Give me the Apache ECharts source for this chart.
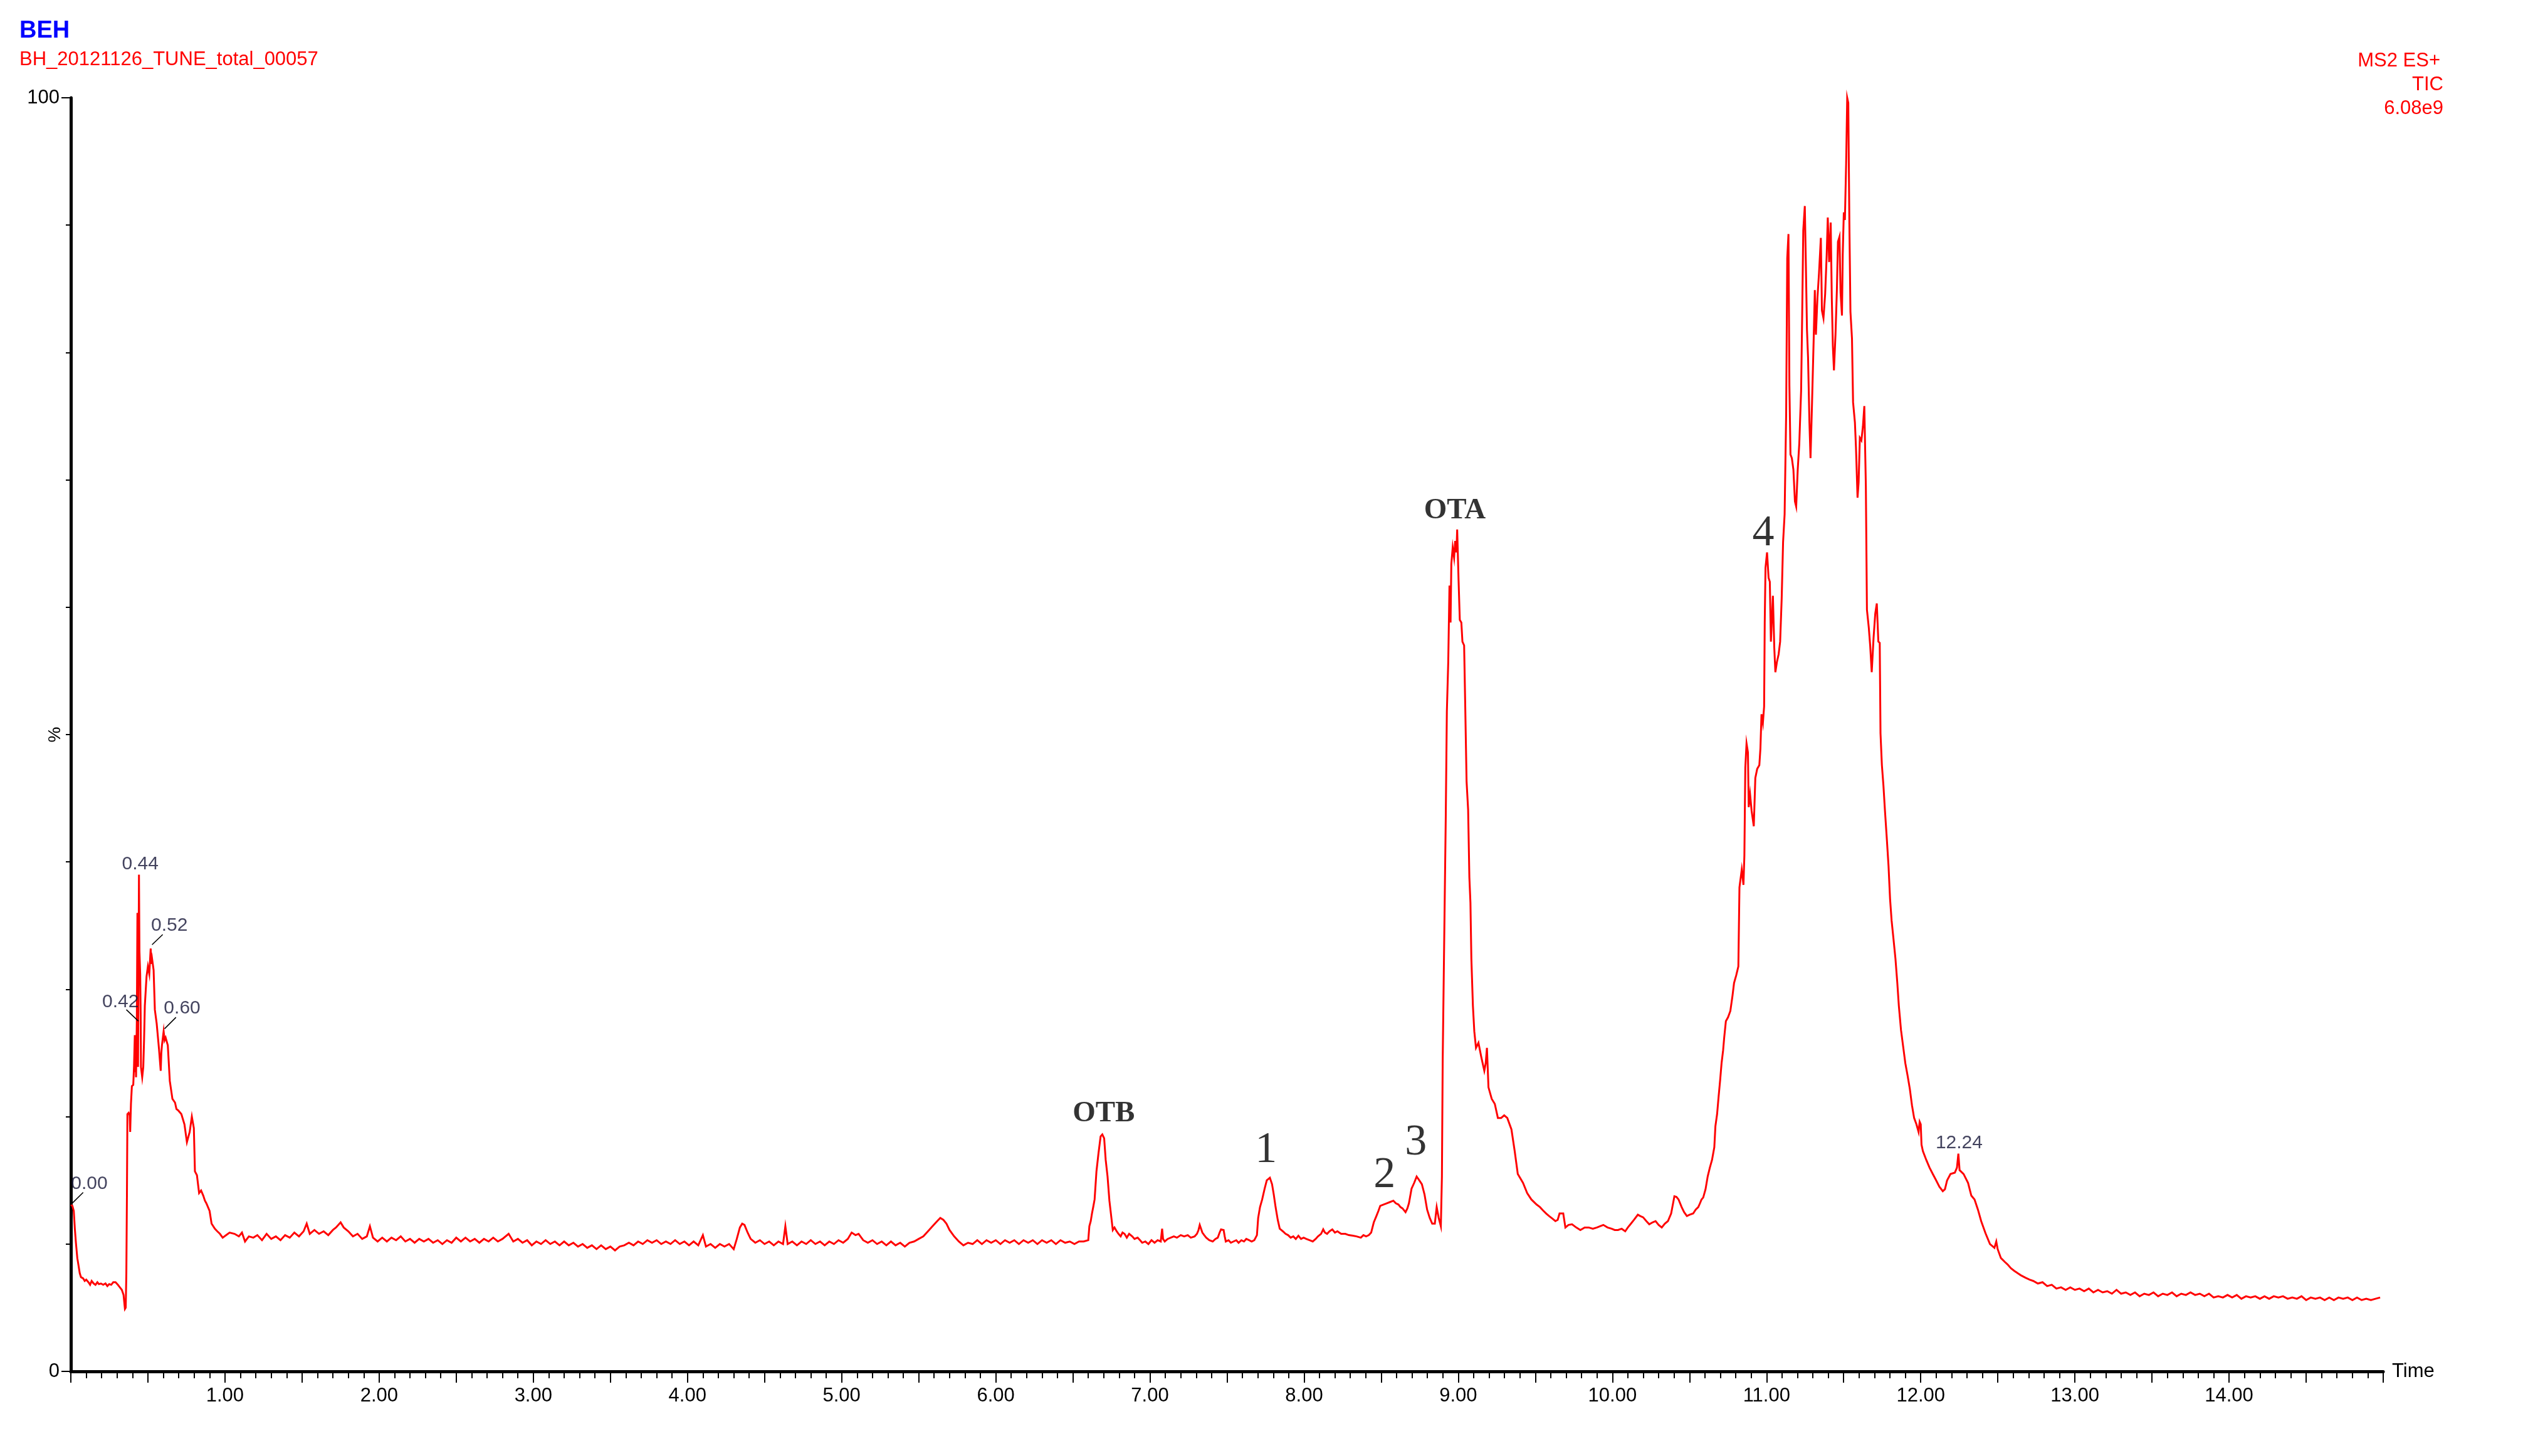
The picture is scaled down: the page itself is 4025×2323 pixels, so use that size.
<!DOCTYPE html>
<html>
<head>
<meta charset="utf-8">
<script src="https://cdn.jsdelivr.net/npm/echarts@6/dist/echarts.min.js"></script>
<style>
html,body{margin:0;padding:0;background:#fff;}
#chart{width:4025px;height:2323px;}
</style>
</head>
<body>
<div id="chart"></div>
<script>
// ---- DATA: [time (min), relative intensity (%)] ----
const early = [[0.0,13.1],[0.01,13.0],[0.019,12.6],[0.026,11.2],[0.033,10.1],[0.042,8.9],[0.05,8.3],[0.058,7.7],[0.066,7.4],[0.08,7.3],[0.09,7.1],[0.1,7.2],[0.114,7.0],[0.125,6.8],[0.135,7.1],[0.148,6.9],[0.16,6.8],[0.172,7.0],[0.182,6.85],[0.195,6.9],[0.21,6.8],[0.225,6.9],[0.237,6.7],[0.249,6.85],[0.262,6.8],[0.275,7.0],[0.29,7.0],[0.305,6.8],[0.318,6.6],[0.331,6.4],[0.342,6.0],[0.351,4.9],[0.356,5.0],[0.36,7.6],[0.364,14],[0.367,20.2],[0.375,20.3],[0.382,20.1],[0.385,18.8],[0.39,21],[0.396,22.4],[0.405,22.5],[0.41,24],[0.415,26.4],[0.418,23.5],[0.42,25],[0.423,23.1],[0.428,27.4],[0.432,36],[0.434,34],[0.436,23.9],[0.442,39.0],[0.445,33],[0.45,31.2],[0.453,28],[0.455,23.9],[0.463,23.1],[0.47,23.9],[0.475,26],[0.48,28.7],[0.491,31],[0.5,31.8],[0.509,31.2],[0.518,33.2],[0.522,32],[0.527,32.4],[0.537,31.5],[0.545,28.4],[0.557,27.3],[0.572,25.3],[0.583,23.6],[0.587,25],[0.591,25.6],[0.602,26.7],[0.608,26],[0.615,26.2],[0.629,25.6],[0.642,22.8],[0.659,21.4],[0.676,21.1],[0.685,20.6],[0.696,20.5],[0.717,20.2],[0.737,19.4],[0.753,18.0],[0.762,18.4],[0.771,18.8],[0.785,20.0],[0.798,19.1],[0.805,15.7],[0.818,15.4],[0.832,14.0],[0.845,14.2],[0.859,13.8],[0.87,13.4],[0.879,13.2],[0.9,12.6],[0.913,11.6],[0.934,11.2],[0.95,11.0],[0.967,10.8],[0.985,10.5],[1.008,10.7],[1.03,10.9],[1.062,10.8],[1.09,10.6],[1.11,10.9],[1.13,10.2],[1.155,10.6],[1.184,10.5]];

const baseline = [[1.21,10.7],[1.24,10.3],[1.27,10.8],[1.3,10.4],[1.33,10.6],[1.36,10.3],[1.39,10.7],[1.42,10.5],[1.45,10.9],[1.48,10.6],[1.51,11.0],[1.53,11.6],[1.55,10.8],[1.58,11.1],[1.61,10.8],[1.64,11.0],[1.67,10.7],[1.7,11.1],[1.72,11.3],[1.75,11.7],[1.77,11.3],[1.8,11.0],[1.83,10.6],[1.86,10.8],[1.89,10.4],[1.92,10.6],[1.94,11.4],[1.96,10.5],[1.99,10.2],[2.02,10.5],[2.05,10.2],[2.08,10.5],[2.11,10.3],[2.14,10.6],[2.17,10.2],[2.2,10.4],[2.23,10.1],[2.26,10.4],[2.29,10.2],[2.32,10.4],[2.35,10.1],[2.38,10.3],[2.41,10.0],[2.44,10.3],[2.47,10.1],[2.5,10.5],[2.53,10.2],[2.56,10.5],[2.59,10.2],[2.62,10.4],[2.65,10.1],[2.68,10.4],[2.71,10.2],[2.74,10.5],[2.77,10.2],[2.8,10.4],[2.84,10.8],[2.87,10.2],[2.9,10.4],[2.93,10.1],[2.96,10.3],[2.99,9.9],[3.02,10.2],[3.05,10.0],[3.08,10.3],[3.11,10.0],[3.14,10.2],[3.17,9.9],[3.2,10.2],[3.23,9.9],[3.26,10.1],[3.29,9.8],[3.32,10.0],[3.35,9.7],[3.38,9.9],[3.41,9.6],[3.44,9.9],[3.47,9.6],[3.5,9.8],[3.53,9.5],[3.56,9.8],[3.59,9.9],[3.62,10.1],[3.65,9.9],[3.68,10.2],[3.71,10.0],[3.74,10.3],[3.77,10.1],[3.8,10.3],[3.83,10.0],[3.86,10.2],[3.89,10.0],[3.92,10.3],[3.95,10.0],[3.98,10.2],[4.01,9.9],[4.04,10.2],[4.07,9.9],[4.1,10.7],[4.12,9.8],[4.15,10.0],[4.18,9.7],[4.21,10.0],[4.24,9.8],[4.27,10.0],[4.3,9.6],[4.32,10.4],[4.34,11.3],[4.355,11.6],[4.37,11.5],[4.39,10.9],[4.41,10.4],[4.44,10.1],[4.47,10.3],[4.5,10.0],[4.53,10.2],[4.56,9.9],[4.59,10.2],[4.62,10.0],[4.635,11.4],[4.65,10.0],[4.68,10.2],[4.71,9.9],[4.74,10.2],[4.77,10.0],[4.8,10.3],[4.83,10.0],[4.86,10.2],[4.89,9.9],[4.92,10.2],[4.95,10.0],[4.98,10.3],[5.01,10.1],[5.04,10.4],[5.065,10.9],[5.09,10.7],[5.11,10.8],[5.14,10.3],[5.17,10.1],[5.2,10.3],[5.23,10.0],[5.26,10.2],[5.29,9.9],[5.32,10.2],[5.35,9.9],[5.38,10.1],[5.41,9.8],[5.44,10.1],[5.47,10.2],[5.5,10.4],[5.53,10.6],[5.56,11.0],[5.59,11.4],[5.62,11.8],[5.64,12.05],[5.66,11.9],[5.68,11.6],[5.7,11.1],[5.73,10.6],[5.76,10.2],[5.79,9.9],[5.82,10.1],[5.85,10.0],[5.88,10.3],[5.91,10.0],[5.94,10.3],[5.97,10.1],[6.0,10.3],[6.03,10.0],[6.06,10.3],[6.09,10.1],[6.12,10.3],[6.15,10.0],[6.18,10.3],[6.21,10.1],[6.24,10.3],[6.27,10.0],[6.3,10.3],[6.33,10.1],[6.36,10.3],[6.39,10.0],[6.42,10.3],[6.45,10.1],[6.48,10.2],[6.51,10.0],[6.54,10.2],[6.57,10.2]];

const minorPeaks = [[6.6,10.3],[6.607,11.4],[6.616,11.8],[6.624,12.4],[6.632,12.9],[6.641,13.5],[6.653,15.7],[6.666,17.1],[6.68,18.45],[6.691,18.6],[6.703,18.3],[6.713,16.6],[6.725,15.3],[6.737,13.4],[6.75,12.05],[6.759,11.1],[6.77,11.3],[6.784,11.0],[6.796,10.8],[6.81,10.6],[6.822,10.9],[6.835,10.8],[6.85,10.5],[6.865,10.8],[6.885,10.6],[6.9,10.4],[6.92,10.5],[6.936,10.3],[6.95,10.1],[6.97,10.2],[6.99,10.0],[7.01,10.3],[7.03,10.1],[7.05,10.3],[7.07,10.2],[7.079,11.2],[7.085,10.4],[7.096,10.2],[7.115,10.4],[7.135,10.5],[7.155,10.6],[7.175,10.5],[7.2,10.7],[7.222,10.6],[7.245,10.7],[7.265,10.5],[7.29,10.6],[7.305,10.8],[7.315,11.1],[7.323,11.5],[7.34,10.9],[7.352,10.7],[7.365,10.5],[7.385,10.3],[7.407,10.2],[7.425,10.4],[7.44,10.5],[7.452,10.9],[7.461,11.15],[7.478,11.1],[7.485,10.6],[7.492,10.2],[7.51,10.3],[7.525,10.1],[7.542,10.2],[7.56,10.3],[7.575,10.1],[7.593,10.3],[7.61,10.2],[7.625,10.4],[7.643,10.3],[7.66,10.2],[7.677,10.3],[7.694,10.7],[7.702,12.05],[7.714,12.9],[7.728,13.5],[7.744,14.35],[7.758,15.0],[7.768,15.1],[7.778,15.2],[7.792,14.7],[7.803,13.9],[7.815,12.9],[7.829,11.9],[7.842,11.2],[7.852,11.1],[7.862,11.0],[7.88,10.8],[7.896,10.7],[7.913,10.5],[7.93,10.6],[7.946,10.4],[7.963,10.65],[7.98,10.4],[7.997,10.5],[8.014,10.4],[8.035,10.3],[8.056,10.2],[8.075,10.4],[8.09,10.6],[8.11,10.8],[8.124,11.15],[8.135,10.9],[8.149,10.8],[8.165,11.0],[8.183,11.15],[8.2,10.9],[8.216,11.0],[8.24,10.8],[8.267,10.8],[8.29,10.7],[8.317,10.65],[8.34,10.6],[8.368,10.5],[8.385,10.7],[8.402,10.6],[8.42,10.7],[8.435,10.9],[8.452,11.7],[8.469,12.2],[8.482,12.6],[8.494,13.0],[8.515,13.1],[8.536,13.2],[8.558,13.3],[8.579,13.4],[8.595,13.2],[8.612,13.1],[8.625,12.9],[8.638,12.8],[8.658,12.5],[8.67,12.8],[8.68,13.2],[8.697,14.35],[8.714,14.8],[8.73,15.3],[8.747,15.0],[8.764,14.7],[8.781,13.9],[8.798,12.7],[8.815,12.05],[8.831,11.6],[8.848,11.6],[8.86,12.9],[8.873,12.05],[8.887,11.4],[8.894,15.3],[8.899,24.4]];

const otaPeak = [[8.908,33.1],[8.919,43.6],[8.926,51.8],[8.935,55.7],[8.943,61.7],[8.95,58.8],[8.955,63.4],[8.964,64.7],[8.973,63.9],[8.98,65.2],[8.988,64.3],[8.993,66.1],[9.002,62.1],[9.01,59.0],[9.02,58.8],[9.027,57.3],[9.038,57.0],[9.045,52.4],[9.054,46.3],[9.064,44.1],[9.072,38.8],[9.079,36.8],[9.085,32.4],[9.095,28.7],[9.104,26.7],[9.115,25.4],[9.131,25.8],[9.149,24.7],[9.169,23.6],[9.178,24.2],[9.186,25.4],[9.196,22.3],[9.217,21.4],[9.237,21.0],[9.257,19.9],[9.278,19.9],[9.298,20.1],[9.318,19.9],[9.345,19.0],[9.366,17.3],[9.386,15.5],[9.42,14.8],[9.447,14.0],[9.474,13.5],[9.508,13.1],[9.53,12.9],[9.549,12.65],[9.57,12.4],[9.589,12.2],[9.61,12.0],[9.63,11.8],[9.645,11.9],[9.657,12.4],[9.681,12.4],[9.695,11.3],[9.715,11.5],[9.738,11.55],[9.765,11.3],[9.792,11.1],[9.82,11.3],[9.846,11.3],[9.873,11.2],[9.9,11.3],[9.92,11.4],[9.941,11.5],[9.968,11.3],[9.995,11.2],[10.015,11.1],[10.036,11.1],[10.06,11.2],[10.083,11.0],[10.1,11.3],[10.117,11.55],[10.14,11.9],[10.165,12.3],[10.18,12.2],[10.199,12.1],[10.22,11.8],[10.239,11.55],[10.26,11.7],[10.28,11.8],[10.3,11.5],[10.32,11.3],[10.34,11.6],[10.36,11.8],[10.381,12.4],[10.402,13.75],[10.415,13.7],[10.429,13.5],[10.449,12.9],[10.465,12.5],[10.483,12.2],[10.5,12.3],[10.524,12.4]];

const rise = [[10.54,12.7],[10.557,12.9],[10.568,13.2],[10.578,13.5],[10.589,13.65],[10.604,14.3],[10.618,15.3],[10.632,16.0],[10.646,16.6],[10.661,17.6],[10.668,19.25],[10.679,20.2],[10.689,21.6],[10.699,22.9],[10.708,24.2],[10.718,25.2],[10.725,26.2],[10.736,27.5],[10.75,27.8],[10.765,28.3],[10.779,29.5],[10.789,30.5],[10.803,31.1],[10.817,31.8],[10.824,38.0],[10.839,39.4],[10.85,38.2],[10.856,40.5],[10.862,47.4],[10.87,49.3],[10.879,48.6],[10.884,44.3],[10.893,45.3],[10.903,44.0],[10.917,42.8],[10.927,46.6],[10.939,47.3],[10.953,47.6],[10.96,48.9],[10.967,51.6],[10.976,50.9],[10.984,52.2]];

const cluster = [[10.988,58.8],[10.993,63.1],[11.003,64.3],[11.013,62.3],[11.021,62.0],[11.028,57.3],[11.041,60.9],[11.05,56.8],[11.057,54.9],[11.067,55.7],[11.078,56.3],[11.088,57.3],[11.098,60.7],[11.107,65.1],[11.117,67.3],[11.127,75.2],[11.134,87.4],[11.142,89.3],[11.148,77.4],[11.155,72.0],[11.164,71.7],[11.174,70.8],[11.184,68.3],[11.192,67.9],[11.202,70.8],[11.212,72.8],[11.224,77.0],[11.231,83.0],[11.238,89.6],[11.248,91.5],[11.255,86.8],[11.262,81.8],[11.269,79.6],[11.278,74.5],[11.285,71.7],[11.295,76.1],[11.305,80.8],[11.313,84.9],[11.32,81.4],[11.33,84.3],[11.34,86.2],[11.352,89.0],[11.359,83.3],[11.369,82.7],[11.38,84.6],[11.39,87.7],[11.397,90.6],[11.406,87.1],[11.416,90.2],[11.423,84.3],[11.43,80.5],[11.437,78.6],[11.447,81.4],[11.456,84.9],[11.463,88.7],[11.473,89.1],[11.48,84.7],[11.489,82.9],[11.494,87.7],[11.501,91.0],[11.508,90.4],[11.516,94.8],[11.523,100.0],[11.53,99.6],[11.537,90.2],[11.544,83.2],[11.554,81.1],[11.561,76.1],[11.573,74.5],[11.58,72.5],[11.59,68.6],[11.597,69.8],[11.605,73.3],[11.615,73.1],[11.625,74.2],[11.634,75.8],[11.644,69.5],[11.651,59.8],[11.663,58.4],[11.672,57.0],[11.682,54.9],[11.694,57.6],[11.705,59.5],[11.715,60.3],[11.725,57.3],[11.734,57.2]];

const fall = [[11.739,50.1],[11.748,47.6],[11.758,46.0],[11.768,44.0],[11.779,42.0],[11.791,39.7],[11.801,37.1],[11.811,35.4],[11.822,34.1],[11.836,32.4],[11.848,30.5],[11.858,28.7],[11.872,26.8],[11.886,25.5],[11.9,24.2],[11.915,23.2],[11.929,22.2],[11.943,20.9],[11.957,19.9],[11.972,19.4],[11.986,18.8],[11.993,19.6],[12.0,19.4],[12.005,17.8],[12.014,17.3],[12.036,16.6],[12.057,16.0],[12.078,15.5],[12.1,15.0],[12.121,14.5],[12.143,14.15],[12.157,14.3],[12.171,15.0],[12.193,15.5],[12.221,15.6],[12.235,16.0],[12.244,17.1],[12.252,15.8],[12.278,15.5],[12.307,14.8],[12.328,13.8],[12.349,13.5],[12.371,12.7],[12.392,11.8],[12.42,10.85],[12.449,10.0],[12.478,9.7],[12.49,10.2],[12.499,9.6],[12.52,8.9],[12.545,8.6],[12.563,8.4],[12.585,8.1],[12.606,7.9],[12.63,7.7],[12.649,7.55],[12.68,7.35],[12.706,7.2]];

const tail = [[12.73,7.1],[12.76,6.9],[12.79,7.0],[12.82,6.7],[12.85,6.8],[12.88,6.5],[12.91,6.6],[12.94,6.4],[12.97,6.6],[13.0,6.4],[13.03,6.5],[13.06,6.3],[13.09,6.5],[13.12,6.2],[13.15,6.4],[13.18,6.2],[13.21,6.3],[13.24,6.1],[13.27,6.4],[13.3,6.1],[13.33,6.2],[13.36,6.0],[13.39,6.2],[13.42,5.9],[13.45,6.1],[13.48,6.0],[13.51,6.2],[13.54,5.9],[13.57,6.1],[13.6,6.0],[13.63,6.2],[13.66,5.9],[13.69,6.1],[13.72,6.0],[13.75,6.2],[13.78,6.0],[13.81,6.1],[13.84,5.9],[13.87,6.1],[13.9,5.8],[13.93,5.9],[13.96,5.8],[13.99,6.0],[14.02,5.8],[14.05,6.0],[14.08,5.7],[14.11,5.9],[14.14,5.8],[14.17,5.9],[14.2,5.7],[14.23,5.9],[14.26,5.7],[14.29,5.9],[14.32,5.8],[14.35,5.9],[14.38,5.7],[14.41,5.8],[14.44,5.7],[14.47,5.9],[14.5,5.6],[14.53,5.8],[14.56,5.7],[14.59,5.8],[14.62,5.6],[14.65,5.8],[14.68,5.6],[14.71,5.8],[14.74,5.7],[14.77,5.8],[14.8,5.6],[14.83,5.8],[14.86,5.6],[14.89,5.7],[14.92,5.6],[14.95,5.7],[14.98,5.8]];

// retention-time tags [text, time, intensity]
const rtTags = [['0.00',0.12,14.9],['0.42',0.322,29.2],['0.44',0.45,40.0],['0.52',0.639,35.2],['0.60',0.722,28.7],['12.24',12.249,18.1]];
// leader lines from tag to peak [[t1,v1],[t2,v2]]
const rtLeaders = [[[0.0,13.1],[0.08,14.05]],[[0.36,28.4],[0.438,27.5]],[[0.527,33.5],[0.596,34.3]],[[0.608,26.9],[0.682,27.8]]];
// compound names [text, time, intensity]
const compoundNames = [['OTB',6.7,20.5],['1',7.753,17.6],['2',8.522,15.6],['3',8.725,18.2],['OTA',8.978,67.8],['4',10.979,66.0]];

const xMin = 0, xMax = 15, xStep = 0.5;
const yMin = 0, yMax = 100, yStep = 10;

// ---- CHART ----
const SANS = '"Liberation Sans", Arial, sans-serif';
const SERIF = '"Liberation Serif", "Times New Roman", serif';
const trace = [].concat(early, baseline, minorPeaks, otaPeak, rise, cluster, fall, tail);

const chart = echarts.init(document.getElementById('chart'), null, {renderer: 'canvas'});

const tagData = rtTags.map(d => ({
  value: [d[1], d[2]],
  label: {show: true, position: 'inside', offset: [0, 4], formatter: d[0], color: '#141436', fontSize: 30, fontFamily: SANS}
}));
const nameData = compoundNames.map(d => {
  const isWord = /[A-Z]/.test(d[0]);
  return {
    value: [d[1], d[2]],
    label: {show: true, position: 'inside', offset: [0, 5], formatter: d[0], color: '#000',
      fontSize: isWord ? 47 : 70, fontWeight: isWord ? 'bold' : 'normal', fontFamily: SERIF}
  };
});

const option = {
  animation: false,
  backgroundColor: '#ffffff',
  grid: {left: 113, right: 223, top: 156, bottom: 135, containLabel: false},
  xAxis: {
    type: 'value', min: xMin, max: xMax, interval: xStep,
    axisLine: {show: true, onZero: false, lineStyle: {color: '#000', width: 5}},
    axisTick: {show: true, length: 18, lineStyle: {color: '#000', width: 2}},
    minorTick: {show: true, splitNumber: 5, length: 11, lineStyle: {color: '#000', width: 2}},
    splitLine: {show: false}, minorSplitLine: {show: false},
    axisLabel: {
      margin: 24, fontSize: 31, color: '#000', fontFamily: SANS,
      showMinLabel: true, showMaxLabel: true,
      formatter: v => (Math.abs(v - Math.round(v)) < 1e-6 && v > 0.5 && v < 14.5) ? v.toFixed(2) : ''
    },
    name: 'Time', nameLocation: 'end', nameGap: 14,
    nameTextStyle: {fontSize: 31, color: '#000', fontFamily: SANS, verticalAlign: 'middle', align: 'left', padding: [10, 0, 0, 0]}
  },
  yAxis: [{
    type: 'value', min: yMin, max: yMax, interval: yStep, position: 'left',
    axisLine: {show: true, lineStyle: {color: '#000', width: 5}},
    axisTick: {show: true, length: 8, lineStyle: {color: '#000', width: 2}},
    splitLine: {show: false},
    axisLabel: {margin: 18, fontSize: 31, color: '#000', fontFamily: SANS,
      formatter: v => (v === yMin || v === yMax) ? String(v) : ''}
  }, {
    type: 'value', min: yMin, max: yMax, interval: yMax - yMin, position: 'left',
    axisLine: {show: false},
    axisTick: {show: true, length: 15, lineStyle: {color: '#000', width: 2}},
    splitLine: {show: false},
    axisLabel: {show: false}
  }],
  series: [{
    type: 'line', data: trace, xAxisIndex: 0, yAxisIndex: 0,
    showSymbol: false, symbol: 'none', smooth: false, clip: false,
    lineStyle: {color: '#ff0000', width: 3, join: 'miter'},
    z: 3
  }, {
    type: 'scatter', data: tagData, yAxisIndex: 0, symbolSize: 1,
    itemStyle: {color: 'rgba(0,0,0,0)'}, silent: true, z: 5, clip: false,
    markLine: {
      silent: true, symbol: ['none', 'none'], animation: false,
      label: {show: false},
      lineStyle: {color: '#000', width: 1.6, type: 'solid'},
      data: rtLeaders.map(p => [{coord: p[0]}, {coord: p[1]}])
    }
  }, {
    type: 'scatter', data: nameData, yAxisIndex: 0, symbolSize: 1,
    itemStyle: {color: 'rgba(0,0,0,0)'}, silent: true, z: 6, clip: false
  }],
  graphic: [
    {type: 'text', left: 31, top: 31, style: {text: 'BEH', fill: '#0000ff', font: 'bold 38px ' + SANS}},
    {type: 'text', left: 31, top: 80, style: {text: 'BH_20121126_TUNE_total_00057', fill: '#ff0000', font: '31px ' + SANS}},
    {type: 'text', right: 132, top: 82, style: {text: 'MS2 ES+', fill: '#ff0000', font: '31px ' + SANS}},
    {type: 'text', right: 127, top: 120, style: {text: 'TIC', fill: '#ff0000', font: '31px ' + SANS}},
    {type: 'text', right: 127, top: 158, style: {text: '6.08e9', fill: '#ff0000', font: '31px ' + SANS}},
    {type: 'text', x: 88, y: 1172, rotation: Math.PI / 2,
      style: {text: '%', fill: '#000', font: '28px ' + SANS, textAlign: 'center', textVerticalAlign: 'middle'}}
  ]
};
chart.setOption(option);
</script>
</body>
</html>
